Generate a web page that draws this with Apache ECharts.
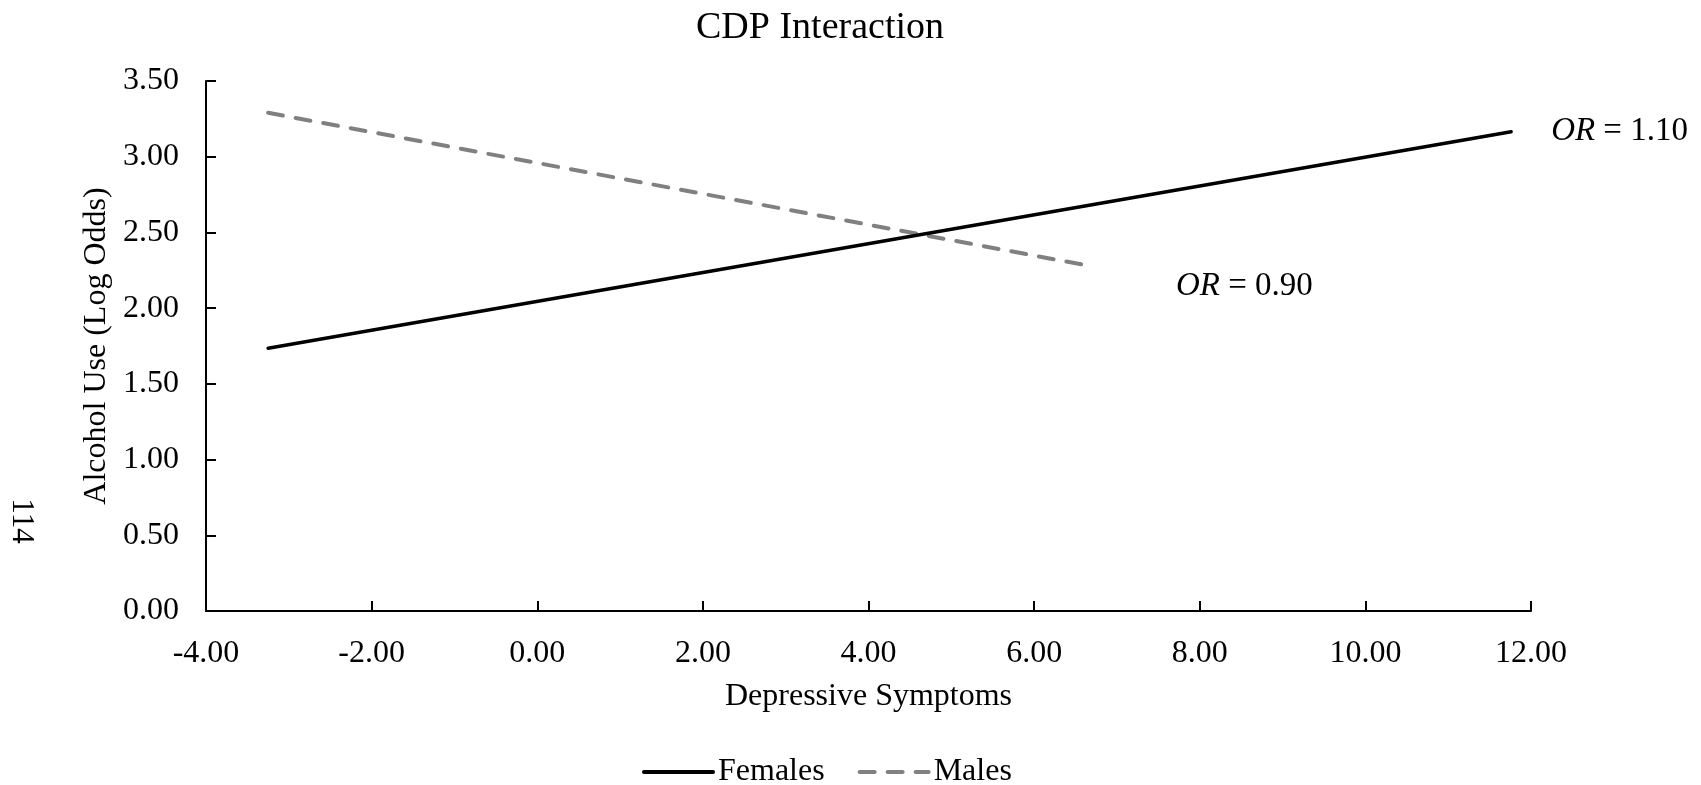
<!DOCTYPE html>
<html>
<head>
<meta charset="utf-8">
<title>CDP Interaction</title>
<script src="https://cdn.jsdelivr.net/npm/echarts@6/dist/echarts.min.js"></script>
<style>
  html, body { margin: 0; padding: 0; background: #ffffff; }
  #chart { width: 1701px; height: 785px; }
</style>
</head>
<body>
<div id="chart"></div>
<script>
// Simple-slope endpoints: depressive symptoms (x) vs. predicted alcohol use (log odds)
const groupNames = ['Females', 'Males'];
const femalesX = [-3.25, 11.76];
const femalesY = [1.735, 3.165];
const malesX = [-3.25, 6.59];
const malesY = [3.29, 2.287];
const oddsRatios = ['1.10', '0.90'];

// Axis ranges
const xMin = -4, xMax = 12, xStep = 2;
const yMin = 0, yMax = 3.5, yStep = 0.5;

const FONT = "'Liberation Serif', 'Times New Roman', serif";

function pairs(xs, ys) {
  return xs.map((x, i) => [x, ys[i]]);
}

// Odds-ratio note drawn at the end of a line
function endNote(orText, extra) {
  return Object.assign({
    show: true,
    formatter: '{i|OR} = ' + orText,
    color: '#000',
    fontFamily: FONT,
    fontSize: 33,
    rich: { i: { fontStyle: 'italic', fontFamily: FONT, fontSize: 33, color: '#000' } }
  }, extra);
}

const chart = echarts.init(document.getElementById('chart'), null, { renderer: 'canvas' });

chart.setOption({
  backgroundColor: '#ffffff',
  animation: false,
  title: {
    text: 'CDP Interaction',
    left: 691,
    top: 4,
    textStyle: { fontFamily: FONT, fontSize: 38, fontWeight: 'normal', color: '#000' }
  },
  grid: { left: 206, right: 170, top: 81, bottom: 174, containLabel: false },
  legend: {
    data: groupNames,
    left: 637,
    top: 751,
    itemWidth: 69,
    itemHeight: 14,
    itemGap: 33,
    itemStyle: { opacity: 0 },
    lineStyle: { width: 4 },
    textStyle: { fontFamily: FONT, fontSize: 32, color: '#000' }
  },
  xAxis: {
    type: 'value',
    min: xMin,
    max: xMax,
    interval: xStep,
    name: 'Depressive Symptoms',
    nameLocation: 'middle',
    nameGap: 70,
    nameTextStyle: { fontFamily: FONT, fontSize: 32, color: '#000' },
    axisLine: { show: true, onZero: false, lineStyle: { color: '#000', width: 2 } },
    axisTick: { show: true, inside: true, length: 10, lineStyle: { color: '#000', width: 2 } },
    axisLabel: {
      margin: 27,
      fontFamily: FONT, fontSize: 32, color: '#000',
      formatter: v => v.toFixed(2)
    },
    splitLine: { show: false }
  },
  yAxis: {
    type: 'value',
    min: yMin,
    max: yMax,
    interval: yStep,
    name: 'Alcohol Use (Log Odds)',
    nameLocation: 'middle',
    nameGap: 84,
    nameTextStyle: { fontFamily: FONT, fontSize: 32, color: '#000' },
    axisLine: { show: true, onZero: false, lineStyle: { color: '#000', width: 2 } },
    axisTick: { show: true, inside: true, length: 10, lineStyle: { color: '#000', width: 2 } },
    axisLabel: {
      margin: 27,
      fontFamily: FONT, fontSize: 32, color: '#000',
      formatter: v => v.toFixed(2)
    },
    splitLine: { show: false }
  },
  graphic: [
    {
      type: 'text',
      x: 21,
      y: 521,
      rotation: -Math.PI / 2,
      style: {
        text: '114',
        fontFamily: FONT,
        fontSize: 31,
        fill: '#000',
        textAlign: 'center',
        textVerticalAlign: 'middle'
      }
    }
  ],
  series: [
    {
      name: groupNames[1],
      type: 'line',
      symbol: 'none',
      z: 2,
      lineStyle: { color: '#808080', width: 4, type: [15, 13], cap: 'round' },
      itemStyle: { color: '#808080' },
      endLabel: endNote(oddsRatios[1], { distance: 93, offset: [0, 22] }),
      data: pairs(malesX, malesY)
    },
    {
      name: groupNames[0],
      type: 'line',
      symbol: 'none',
      z: 3,
      lineStyle: { color: '#000000', width: 3.5, type: 'solid', cap: 'round' },
      itemStyle: { color: '#000000' },
      endLabel: endNote(oddsRatios[0], { distance: 40 }),
      data: pairs(femalesX, femalesY)
    }
  ]
});
</script>
</body>
</html>
